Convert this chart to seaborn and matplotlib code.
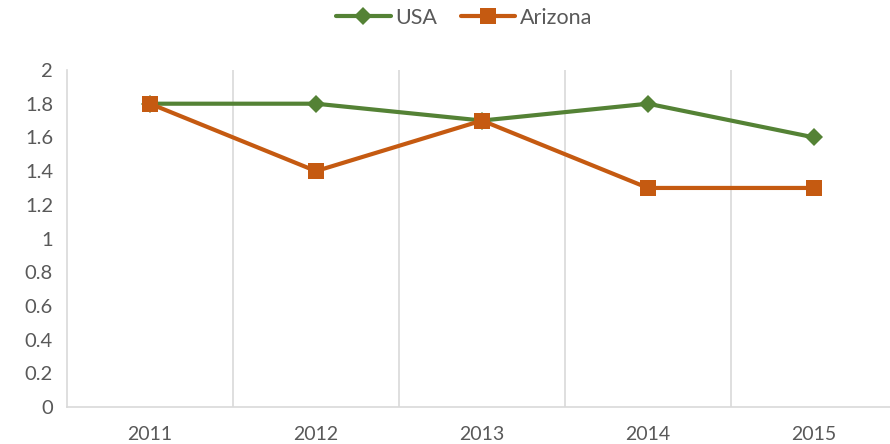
import matplotlib
matplotlib.use("Agg")
import matplotlib.pyplot as plt
import seaborn as sns
import pandas as pd
import numpy as np
from matplotlib.ticker import FixedLocator

years = ["2011", "2012", "2013", "2014", "2015"]
usa = [1.8, 1.8, 1.7, 1.8, 1.6]
arizona = [1.8, 1.4, 1.7, 1.3, 1.3]
yticks = [0, 0.2, 0.4, 0.6, 0.8, 1, 1.2, 1.4, 1.6, 1.8, 2]
ytick_labels = ["0", "0.2", "0.4", "0.6", "0.8", "1", "1.2", "1.4", "1.6", "1.8", "2"]

sns.set_theme(style="white")
plt.rcParams['font.family'] = ['Lato', 'DejaVu Sans']

df = pd.DataFrame({
    "x": list(range(len(years))) * 2,
    "value": usa + arizona,
    "series": ["USA"] * len(years) + ["Arizona"] * len(years),
})

fig = plt.figure(figsize=(8.9, 4.44), dpi=100)
ax = fig.add_axes([67/890, 37/444, 1 - 67/890, (407 - 70)/444])

green = "#548235"
orange = "#C55A11"
sns.lineplot(data=df, x="x", y="value", hue="series", style="series",
             palette={"USA": green, "Arizona": orange},
             markers={"USA": "D", "Arizona": "s"}, dashes=False,
             markersize=11, linewidth=3.0, markeredgewidth=0, ax=ax, legend=False)
for line in ax.get_lines():
    if line.get_marker() == "s":
        line.set_markersize(12)
        line.set_zorder(3)
    else:
        line.set_markersize(9)
        line.set_zorder(2)

ax.set_xlim(-0.5, 4.5 - 7/166)
ax.set_ylim(0, 2)
ax.set_xticks(range(len(years)))
ax.set_xticklabels(years)
ax.xaxis.set_minor_locator(FixedLocator([0.5, 1.5, 2.5, 3.5]))
ax.grid(False)
ax.grid(True, which="minor", axis="x", color="#d9d9d9", linewidth=1.2)
ax.set_yticks(yticks)
ax.set_yticklabels(ytick_labels)
ax.tick_params(axis="both", which="both", length=0, labelsize=14.5, labelcolor="#595959")
ax.tick_params(axis="x", pad=14)
ax.tick_params(axis="y", pad=10)
for lab in ax.get_xticklabels():
    lab.set_fontsize(14)
ax.set_xlabel("")
ax.set_ylabel("")
for s in ["top", "right"]:
    ax.spines[s].set_visible(False)
for s in ["left", "bottom"]:
    ax.spines[s].set_color("#d9d9d9")
    ax.spines[s].set_linewidth(1.2)

from matplotlib.lines import Line2D
handles = [
    Line2D([0], [0], color=green, lw=3.0, marker="D", markersize=9, markeredgewidth=0),
    Line2D([0], [0], color=orange, lw=3.0, marker="s", markersize=12, markeredgewidth=0),
]
fig.legend(handles, ["USA", "Arizona"], loc="center", bbox_to_anchor=(464/890, 1 - 18/444),
           ncol=2, frameon=False, fontsize=15.5, labelcolor="#595959",
           handlelength=2.55, columnspacing=1.1, handletextpad=0.2)

fig.savefig("out.png", dpi=100)
